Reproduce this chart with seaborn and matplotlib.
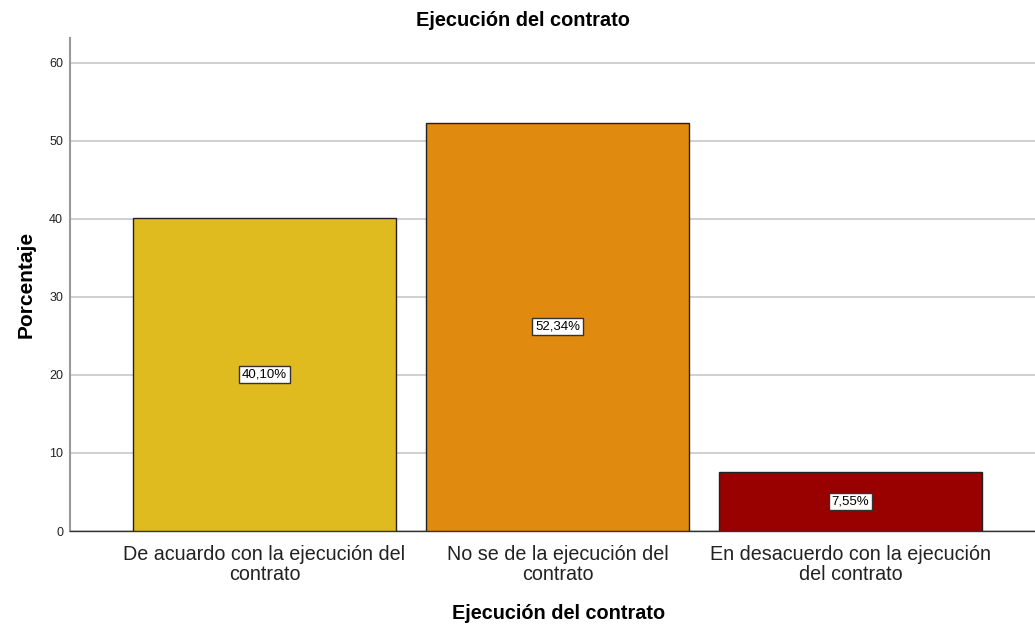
import matplotlib
matplotlib.use('Agg')
import matplotlib.pyplot as plt
import seaborn as sns
import pandas as pd

categorias = ['De acuardo con la ejecución del\ncontrato',
              'No se de la ejecución del\ncontrato',
              'En desacuerdo con la ejecución\ndel contrato']
porcentajes = [40.10, 52.34, 7.55]
etiquetas = ['40,10%', '52,34%', '7,55%']
colores = ['#DFBB1F', '#E08A10', '#990000']

sns.set_style('white')
plt.rcParams['font.family'] = ['Liberation Sans', 'DejaVu Sans']

df = pd.DataFrame({'cat': categorias, 'pct': porcentajes})

fig = plt.figure(figsize=(10.35, 6.25), dpi=100)
ax = fig.add_axes([0.0676, 0.1504, 0.9324, 0.7888])

sns.barplot(data=df, x='cat', y='pct', hue='cat', palette=colores, legend=False,
            saturation=1, width=0.9, edgecolor='#222222', linewidth=1,
            ax=ax, zorder=3)

ax.set_ylim(0, 63.2)
ax.set_xlim(-0.664, 2.63)
ax.set_yticks([0, 10, 20, 30, 40, 50, 60])
ax.yaxis.grid(True, color='#c8c8c8', linewidth=1.2, zorder=0)
ax.set_axisbelow(True)

for i, (v, t) in enumerate(zip(porcentajes, etiquetas)):
    ax.text(i, v / 2, t, ha='center', va='center', fontsize=9.5, color='black',
            zorder=5, bbox=dict(boxstyle='square,pad=0.2', facecolor='white',
                                edgecolor='#333333', linewidth=1))

ax.tick_params(axis='y', labelsize=9, length=0, pad=5, labelcolor='#222222')
ax.tick_params(axis='x', labelsize=14.2, length=0, pad=10, labelcolor='#222222')
for lbl in ax.get_xticklabels():
    lbl.set_linespacing(1.1)

fig.text(0.505, 0.968, 'Ejecución del contrato', ha='center', va='center',
         fontsize=14.4, fontweight='bold', color='black')
ax.set_xlabel('Ejecución del contrato', fontsize=14.3, fontweight='bold',
              color='black')
ax.xaxis.set_label_coords(0.5065, -0.148)
ax.set_ylabel('Porcentaje', fontsize=15, fontweight='bold', labelpad=10,
              color='black')

for s in ['top', 'right']:
    ax.spines[s].set_visible(False)
ax.spines['left'].set_color('#999999')
ax.spines['left'].set_linewidth(1.5)
ax.spines['bottom'].set_color('#333333')
ax.spines['bottom'].set_linewidth(1)

fig.savefig('out.png', dpi=100)
